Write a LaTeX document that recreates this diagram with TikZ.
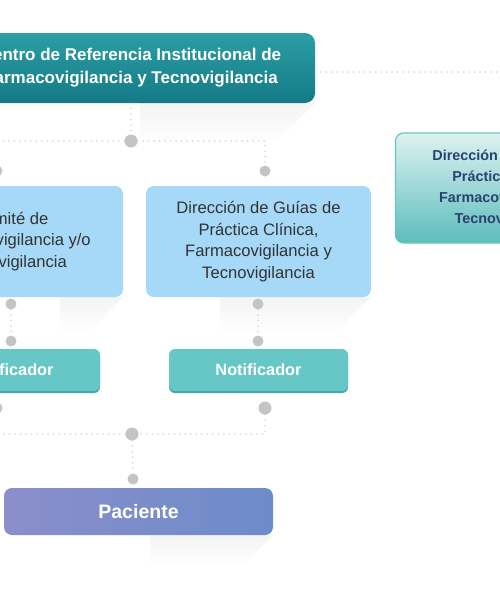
\documentclass[tikz,border=0pt]{standalone}
\usepackage{xcolor}
\usepackage{tikz}
\usetikzlibrary{fadings}
\usepackage{fontspec}
\setmainfont{Liberation Sans}
\definecolor{tealtop}{RGB}{44,158,164}
\definecolor{tealbot}{RGB}{20,122,134}
\definecolor{skyblue}{RGB}{166,217,248}
\definecolor{notiteal}{RGB}{103,198,198}
\definecolor{notidark}{RGB}{60,168,176}
\definecolor{pacleft}{RGB}{139,142,202}
\definecolor{pacright}{RGB}{108,140,201}
\definecolor{mintop}{RGB}{222,242,242}
\definecolor{minbot}{RGB}{92,189,187}
\definecolor{minline}{RGB}{108,196,194}
\definecolor{navytext}{RGB}{43,65,112}
\definecolor{dotgray}{RGB}{196,196,196}
\definecolor{textgray}{RGB}{51,51,51}

\begin{document}
\begin{tikzpicture}[x=1pt, y=-1pt,
    topbox/.style={rounded corners=10pt, minimum width=368pt, minimum height=70pt,
        top color=tealtop, bottom color=tealbot, text=white, align=center,
        font=\bfseries\fontsize{17}{23}\selectfont},
    guiabox/.style={rounded corners=8pt, minimum width=225pt, minimum height=111pt,
        fill=skyblue, text=textgray, align=center,
        font=\fontsize{16.6}{21.5}\selectfont},
    minbox/.style={rounded corners=8pt, minimum width=225pt, minimum height=110pt,
        draw=minline, line width=1.2pt, top color=mintop, bottom color=minbot,
        text=navytext, align=center, font=\bfseries\fontsize{14.4}{21}\selectfont},
    notibox/.style={rounded corners=6pt, minimum width=179pt, minimum height=42pt,
        fill=notiteal, text=white, font=\bfseries\fontsize{16.3}{20}\selectfont,
        preaction={fill=notidark, transform canvas={yshift=-2pt}}},
    pacbox/.style={rounded corners=8pt, minimum width=269pt, minimum height=47pt,
        left color=pacleft, right color=pacright, text=white,
        font=\bfseries\fontsize{19.5}{24}\selectfont},
    dot/.style={circle, fill=dotgray, inner sep=0pt, minimum size=11pt},
    bigdot/.style={dot, minimum size=13pt},
    conn/.style={draw=dotgray, line width=1.5pt, line cap=round,
        dash pattern=on 0pt off 5.5pt},
    longshadow/.style={fill=black, opacity=0.045, path fading=south}]

    \path[use as bounding box] (0,0) rectangle (500,600);
    \clip (0,0) rectangle (500,600);
    \fill[white] (0,0) rectangle (500,600);

    % long shadows
    \fill[longshadow] (140,103) -- (315,103) -- (272,146) -- (140,146) -- cycle;
    \fill[longshadow] (60,297) -- (123,297) -- (88,334) -- (60,334) -- cycle;
    \fill[longshadow] (220,297) -- (371,297) -- (334,334) -- (220,334) -- cycle;
    \fill[longshadow] (150,535) -- (273,535) -- (243,566) -- (150,566) -- cycle;

    % boxes
    \node[topbox] (centro) at (131,68)
        {Centro de Referencia Institucional de\\Farmacovigilancia y Tecnovigilancia};
    \node[minbox] (direccionR) at (508,188)
        {Dirección de Guías de\\Práctica Clínica,\\Farmacovigilancia y\\Tecnovigilancia};
    \node[guiabox] (comite) at (10.5,241.5)
        {Comité de\\Farmacovigilancia y/o\\Tecnovigilancia};
    \node[guiabox] (direccion) at (258.5,241.5)
        {Dirección de Guías de\\Práctica Clínica,\\Farmacovigilancia y\\Tecnovigilancia};
    \node[notibox] (notiL) at (10.5,370) {Notificador};
    \node[notibox] (notiM) at (258.5,370) {Notificador};
    \node[pacbox] (paciente) at (138.5,511.5) {Paciente};

    % dots
    \node[bigdot] (split) at (131,141) {};
    \node[dot] (comiteIn) at (-3,171) {};
    \node[dot] (direccionIn) at (265,171) {};
    \node[dot] (comiteOut) at (11,304) {};
    \node[dot] (notiLIn) at (11,341) {};
    \node[dot] (direccionOut) at (258,304) {};
    \node[dot] (notiMIn) at (258,341) {};
    \node[dot] (notiLOut) at (-3,408) {};
    \node[bigdot] (notiMOut) at (265,408) {};
    \node[bigdot] (join) at (132,434) {};
    \node[dot] (pacienteIn) at (133,479) {};
    \coordinate (rightend) at (510,72);

    % connectors
    \draw[conn] (centro) -- (split);
    \draw[conn] (split) -| (direccionIn);
    \draw[conn] (split) -| (comiteIn);
    \draw[conn] ([yshift=-4pt]centro.east) -- (rightend);
    \draw[conn] (comiteOut) -- (notiLIn);
    \draw[conn] (direccionOut) -- (notiMIn);
    \draw[conn] (notiMOut) |- (join);
    \draw[conn] (notiLOut) |- (join);
    \draw[conn] (join) -- (pacienteIn);
\end{tikzpicture}
\end{document}
